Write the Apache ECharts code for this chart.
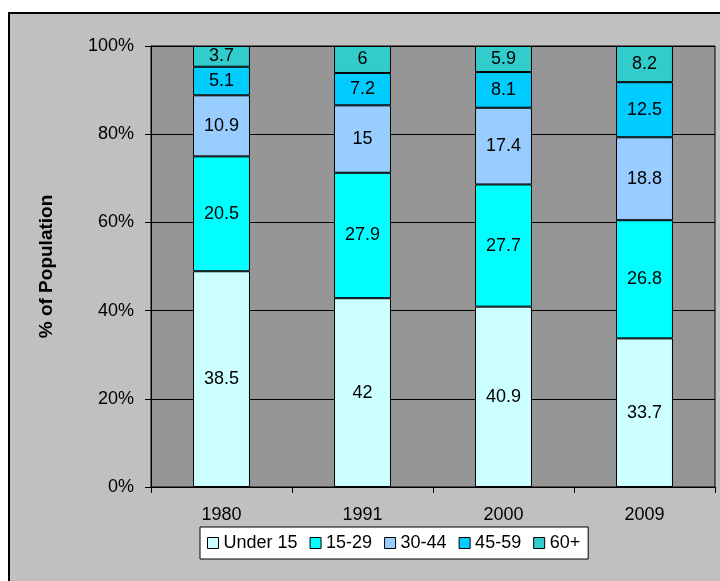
<!DOCTYPE html>
<html>
<head>
<meta charset="utf-8">
<script src="https://cdn.jsdelivr.net/npm/echarts@6/dist/echarts.min.js"></script>
<style>
  html, body { margin: 0; padding: 0; background: #ffffff; }
  #chart { width: 720px; height: 581px; }
</style>
</head>
<body>
<div id="chart"></div>
<script>
// Population by age group (raw figures), shown as 100% stacked columns
const years = ['1980', '1991', '2000', '2009'];
const under15 = [38.5, 42, 40.9, 33.7];
const age15to29 = [20.5, 27.9, 27.7, 26.8];
const age30to44 = [10.9, 15, 17.4, 18.8];
const age45to59 = [5.1, 7.2, 8.1, 12.5];
const age60plus = [3.7, 6, 5.9, 8.2];
const yTicks = [0, 20, 40, 60, 80, 100];

const groups = [
  { name: 'Under 15', values: under15, color: '#CCFFFF' },
  { name: '15-29', values: age15to29, color: '#00FFFF' },
  { name: '30-44', values: age30to44, color: '#99CCFF' },
  { name: '45-59', values: age45to59, color: '#00CCFF' },
  { name: '60+', values: age60plus, color: '#33CCCC' }
];

// Column totals used to turn each figure into a share of 100%
const totals = years.map((_, i) => groups.reduce((s, g) => s + g.values[i], 0));

const FONT = 'Liberation Sans, Arial, sans-serif';

const series = groups.map(g => ({
  name: g.name,
  type: 'bar',
  stack: 'pop',
  barWidth: '40.4%',
  data: g.values.map((v, i) => ({ value: v / totals[i] * 100, raw: v })),
  itemStyle: { color: g.color, borderColor: '#000', borderWidth: 1 },
  label: {
    show: true,
    position: 'inside',
    color: '#000',
    fontFamily: FONT,
    fontSize: 18,
    formatter: p => String(p.data.raw)
  },
  emphasis: { disabled: true }
}));

const chart = echarts.init(document.getElementById('chart'));
chart.setOption({
  animation: false,
  backgroundColor: '#ffffff',
  graphic: [{
    type: 'rect',
    z: -100,
    silent: true,
    shape: { x: 9, y: 13, width: 740, height: 620 },
    style: { fill: '#C0C0C0', stroke: '#000', lineWidth: 2 }
  }],
  grid: {
    left: 151, top: 46, right: 5, bottom: 94,
    show: true,
    backgroundColor: '#969696',
    borderColor: '#000',
    borderWidth: 1
  },
  legend: {
    left: 200,
    top: 527,
    padding: [7, 8, 7, 7],
    backgroundColor: '#ffffff',
    borderColor: '#000',
    borderWidth: 1,
    itemWidth: 11,
    itemHeight: 11,
    itemGap: 12,
    icon: 'rect',
    itemStyle: { borderColor: '#000', borderWidth: 1 },
    textStyle: { fontFamily: FONT, fontSize: 18, color: '#000' },
    data: groups.map(g => g.name)
  },
  xAxis: {
    type: 'category',
    data: years,
    axisLine: { lineStyle: { color: '#000', width: 1 } },
    axisTick: { show: true, length: 6, lineStyle: { color: '#000' } },
    axisLabel: { color: '#000', fontFamily: FONT, fontSize: 18, margin: 19 }
  },
  yAxis: {
    type: 'value',
    min: yTicks[0],
    max: yTicks[yTicks.length - 1],
    interval: 20,
    name: '% of Population',
    nameLocation: 'middle',
    nameGap: 95,
    nameTextStyle: { fontFamily: FONT, fontSize: 19, fontWeight: 'bold', color: '#000' },
    axisLine: { show: true, lineStyle: { color: '#000', width: 1 } },
    axisTick: { show: true, length: 6, lineStyle: { color: '#000' } },
    axisLabel: { color: '#000', fontFamily: FONT, fontSize: 18, margin: 17, formatter: '{value}%' },
    splitLine: { show: true, lineStyle: { color: '#000', width: 1 } }
  },
  series: series
});
</script>
</body>
</html>
